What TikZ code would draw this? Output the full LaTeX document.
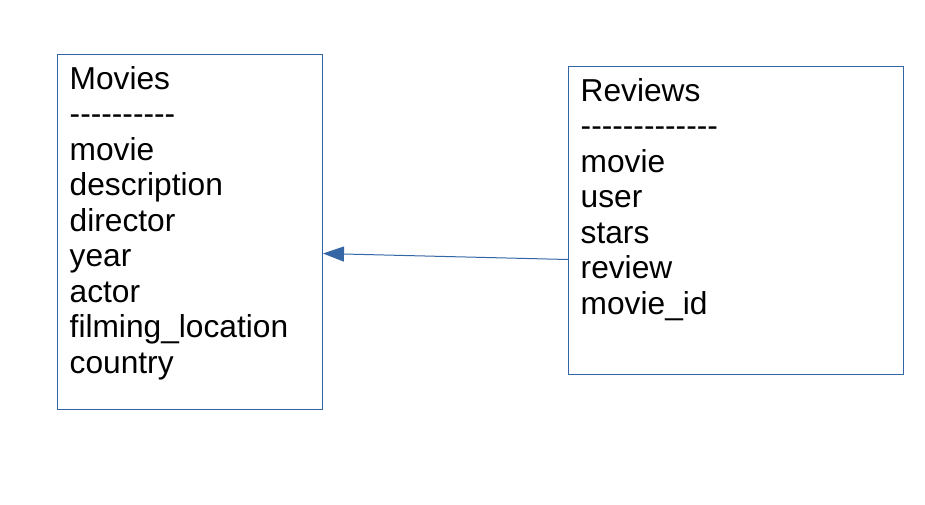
\documentclass[tikz,border=0pt]{standalone}
\usepackage{fontspec}
\newfontfamily\tablefont{Liberation Sans}
\usetikzlibrary{arrows.meta,positioning}
\definecolor{boxblue}{HTML}{3465A4}

\begin{document}
\begin{tikzpicture}[x=1pt,y=1pt,
    tablebox/.style={draw=boxblue,line width=1pt,inner sep=0pt,anchor=north west},
    tabletext/.style={anchor=base west,align=left,inner sep=0pt,
      font=\tablefont\fontsize{31.7}{35.5}\selectfont}]
  \useasboundingbox (0,0) rectangle (925,-504);
  % the two tables
  \node[tablebox,minimum width=265,minimum height=355] (movies) at (57,-54) {};
  \node[tablebox,minimum width=335,minimum height=308] (reviews) at (568,-66) {};
  % base is the last line, so shift down by the lines below the title
  \node[tabletext] (moviestext) at ([xshift=12.5,yshift=-319]movies.north west)
    {Movies\\----------\\movie\\description\\director\\year\\actor\\filming\_location\\country};
  \node[tabletext] (reviewstext) at ([xshift=12.5,yshift=-248]reviews.north west)
    {Reviews\\-------------\\movie\\user\\stars\\review\\movie\_id};
  % link
  \draw[boxblue,line width=1pt,-{Triangle[length=21pt,width=15pt]}]
    ([yshift=-39]reviews.west) -- ([yshift=-21.5]movies.east);
\end{tikzpicture}
\end{document}
